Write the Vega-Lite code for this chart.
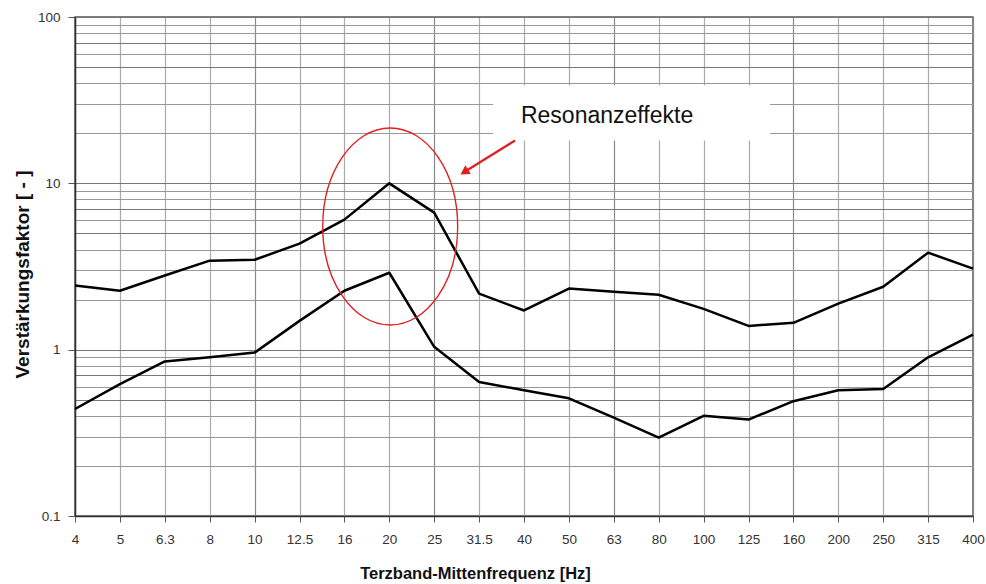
{
  "$schema": "https://vega.github.io/schema/vega-lite/v6.json",
  "width": 898,
  "height": 499,
  "autosize": {"type": "none"},
  "padding": {"left": 75, "top": 17, "right": 13, "bottom": 68},
  "background": "white",
  "config": {
    "view": {"stroke": "#555", "strokeWidth": 1.5},
    "font": "Liberation Sans"
  },
  "datasets": {
    "curves": [
      {"series": "oben", "idx": 0, "freq": "4", "value": 2.43},
      {"series": "oben", "idx": 1, "freq": "5", "value": 2.26},
      {"series": "oben", "idx": 2, "freq": "6.3", "value": 2.79},
      {"series": "oben", "idx": 3, "freq": "8", "value": 3.43},
      {"series": "oben", "idx": 4, "freq": "10", "value": 3.47},
      {"series": "oben", "idx": 5, "freq": "12.5", "value": 4.34},
      {"series": "oben", "idx": 6, "freq": "16", "value": 6.05},
      {"series": "oben", "idx": 7, "freq": "20", "value": 10.0},
      {"series": "oben", "idx": 8, "freq": "25", "value": 6.67},
      {"series": "oben", "idx": 9, "freq": "31.5", "value": 2.17},
      {"series": "oben", "idx": 10, "freq": "40", "value": 1.72},
      {"series": "oben", "idx": 11, "freq": "50", "value": 2.33},
      {"series": "oben", "idx": 12, "freq": "63", "value": 2.23},
      {"series": "oben", "idx": 13, "freq": "80", "value": 2.14},
      {"series": "oben", "idx": 14, "freq": "100", "value": 1.76},
      {"series": "oben", "idx": 15, "freq": "125", "value": 1.39},
      {"series": "oben", "idx": 16, "freq": "160", "value": 1.45},
      {"series": "oben", "idx": 17, "freq": "200", "value": 1.89},
      {"series": "oben", "idx": 18, "freq": "250", "value": 2.39},
      {"series": "oben", "idx": 19, "freq": "315", "value": 3.83},
      {"series": "oben", "idx": 20, "freq": "400", "value": 3.07},
      {"series": "unten", "idx": 0, "freq": "4", "value": 0.44},
      {"series": "unten", "idx": 1, "freq": "5", "value": 0.62},
      {"series": "unten", "idx": 2, "freq": "6.3", "value": 0.85},
      {"series": "unten", "idx": 3, "freq": "8", "value": 0.9},
      {"series": "unten", "idx": 4, "freq": "10", "value": 0.96},
      {"series": "unten", "idx": 5, "freq": "12.5", "value": 1.49},
      {"series": "unten", "idx": 6, "freq": "16", "value": 2.26},
      {"series": "unten", "idx": 7, "freq": "20", "value": 2.9},
      {"series": "unten", "idx": 8, "freq": "25", "value": 1.04},
      {"series": "unten", "idx": 9, "freq": "31.5", "value": 0.64},
      {"series": "unten", "idx": 10, "freq": "40", "value": 0.57},
      {"series": "unten", "idx": 11, "freq": "50", "value": 0.51},
      {"series": "unten", "idx": 12, "freq": "63", "value": 0.39},
      {"series": "unten", "idx": 13, "freq": "80", "value": 0.296},
      {"series": "unten", "idx": 14, "freq": "100", "value": 0.4},
      {"series": "unten", "idx": 15, "freq": "125", "value": 0.38},
      {"series": "unten", "idx": 16, "freq": "160", "value": 0.49},
      {"series": "unten", "idx": 17, "freq": "200", "value": 0.57},
      {"series": "unten", "idx": 18, "freq": "250", "value": 0.58},
      {"series": "unten", "idx": 19, "freq": "315", "value": 0.9},
      {"series": "unten", "idx": 20, "freq": "400", "value": 1.23}
    ],
    "box": [{"x1": 9.31, "x2": 15.48, "y1": 18.1, "y2": 38.7}],
    "label": [{"x": 11.85, "y": 25.5, "text": "Resonanzeffekte"}],
    "ellipse": [{"x": 7.02, "y": 5.5}],
    "arrow": [
      {"part": "shaft", "x": 9.8, "y": 18.1},
      {"part": "shaft", "x": 8.67, "y": 11.7}
    ],
    "head": [{"x": 8.67, "y": 11.7}]
  },
  "layer": [
    {
      "data": {"name": "curves"},
      "mark": {"type": "line", "color": "black", "strokeWidth": 2.5, "strokeJoin": "round"},
      "encoding": {
        "x": {
          "field": "idx",
          "type": "quantitative",
          "scale": {"domain": [0, 20], "nice": false, "zero": false},
          "axis": {
            "values": [0,1,2,3,4,5,6,7,8,9,10,11,12,13,14,15,16,17,18,19,20],
            "labelExpr": "['4','5','6.3','8','10','12.5','16','20','25','31.5','40','50','63','80','100','125','160','200','250','315','400'][datum.value]",
            "title": "Terzband-Mittenfrequenz [Hz]",
            "titleFont": "Liberation Sans",
            "titleFontSize": 16.5,
            "titleFontWeight": "bold",
            "titleColor": "#111",
            "titleX": 400,
            "titleY": 57,
            "titleAlign": "center",
            "titleBaseline": "middle",
            "labelFont": "Liberation Sans",
            "labelFontSize": 13.5,
            "labelColor": "#333",
            "labelPadding": 10,
            "labelFlush": false,
            "tickSize": 6,
            "tickColor": "#555",
            "domainColor": "#333",
            "domainWidth": 1.5,
            "grid": true,
            "gridColor": {"condition": {"test": "indexof([0,4,8,12,16,20], datum.value) >= 0", "value": "#888"}, "value": "#aaa"},
            "gridWidth": 1.2
          }
        },
        "y": {
          "field": "value",
          "type": "quantitative",
          "scale": {"type": "log", "domain": [0.1, 100], "nice": false},
          "axis": {
            "values": [0.1,0.2,0.3,0.4,0.5,0.6,0.7,0.8,0.9,1,2,3,4,5,6,7,8,9,10,20,30,40,50,60,70,80,90,100],
            "labelExpr": "indexof([0.1,1,10,100], datum.value) >= 0 ? toString(datum.value) : ''",
            "title": "Verstärkungsfaktor [ - ]",
            "titleFont": "Liberation Sans",
            "titleFontSize": 19,
            "titleFontWeight": "bold",
            "titleColor": "#111",
            "titleX": -53,
            "titleY": 257,
            "titleAngle": -90,
            "titleAlign": "center",
            "titleBaseline": "middle",
            "labelFont": "Liberation Sans",
            "labelFontSize": 13.5,
            "labelColor": "#333",
            "labelPadding": 8,
            "labelFlush": false,
            "tickSize": 7,
            "tickColor": "#555",
            "tickOpacity": {"condition": {"test": "indexof([0.1,1,10,100], datum.value) >= 0", "value": 1}, "value": 0},
            "domainColor": "#333",
            "domainWidth": 1.5,
            "grid": true,
            "gridColor": {"condition": {"test": "indexof([0.1,1,10,100,0.5,5,50,0.7,7,70], datum.value) >= 0", "value": "#777"}, "value": "#999"},
            "gridWidth": 1.2
          }
        },
        "detail": {"field": "series"}
      }
    },
    {
      "data": {"name": "box"},
      "mark": {"type": "rect", "fill": "white", "stroke": null},
      "encoding": {
        "x": {"field": "x1", "type": "quantitative"},
        "x2": {"field": "x2"},
        "y": {"field": "y1", "type": "quantitative"},
        "y2": {"field": "y2"}
      }
    },
    {
      "data": {"name": "label"},
      "mark": {"type": "text", "fontSize": 23, "font": "Liberation Sans", "color": "#111", "align": "center", "baseline": "middle"},
      "encoding": {
        "x": {"field": "x", "type": "quantitative"},
        "y": {"field": "y", "type": "quantitative"},
        "text": {"field": "text"}
      }
    },
    {
      "data": {"name": "ellipse"},
      "mark": {
        "type": "point",
        "shape": "M -0.685 0 A 0.685 1 0 1 1 0.685 0 A 0.685 1 0 1 1 -0.685 0 Z",
        "filled": false,
        "stroke": "#e02020",
        "strokeWidth": 1.4,
        "opacity": 1,
        "size": 38809
      },
      "encoding": {
        "x": {"field": "x", "type": "quantitative"},
        "y": {"field": "y", "type": "quantitative"}
      }
    },
    {
      "data": {"name": "arrow"},
      "mark": {"type": "line", "color": "#e02020", "strokeWidth": 2.2},
      "encoding": {
        "x": {"field": "x", "type": "quantitative"},
        "y": {"field": "y", "type": "quantitative"},
        "detail": {"field": "part"}
      }
    },
    {
      "data": {"name": "head"},
      "mark": {"type": "point", "shape": "triangle-up", "filled": true, "color": "#e02020", "opacity": 1, "size": 110, "angle": 238},
      "encoding": {
        "x": {"field": "x", "type": "quantitative"},
        "y": {"field": "y", "type": "quantitative"}
      }
    }
  ]
}
